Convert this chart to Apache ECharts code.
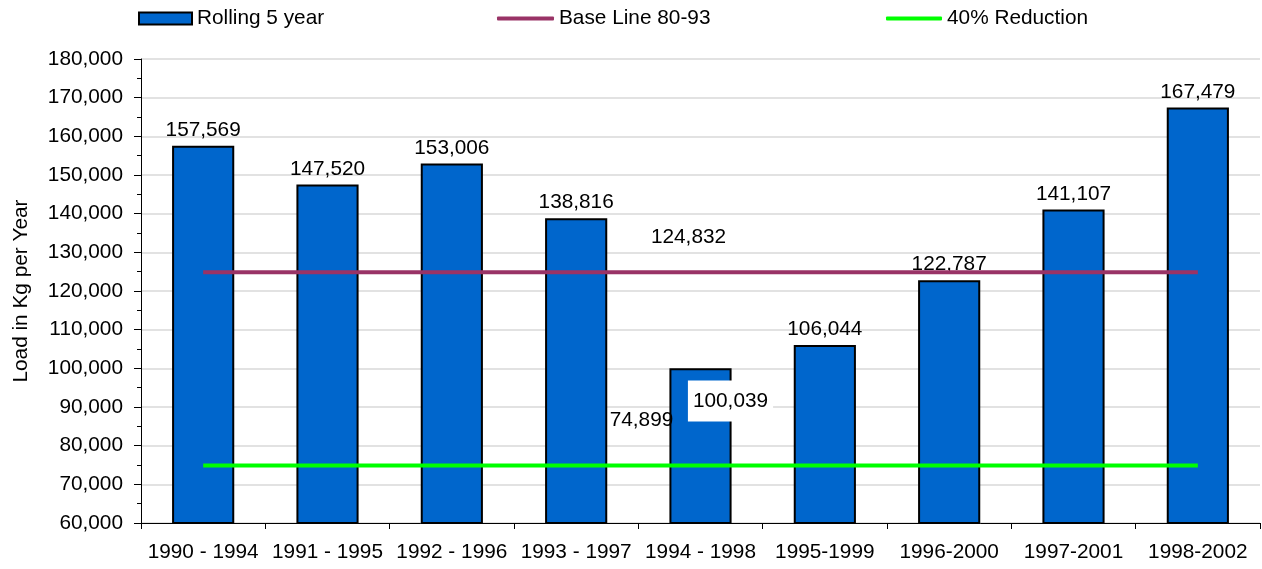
<!DOCTYPE html>
<html>
<head>
<meta charset="utf-8">
<script src="https://cdn.jsdelivr.net/npm/echarts@6/dist/echarts.min.js"></script>
<style>html,body{margin:0;padding:0;background:#fff;}#c{width:1262px;height:569px;}</style>
</head>
<body>
<div id="c"></div>
<script>
var categories = ['1990 - 1994','1991 - 1995','1992 - 1996','1993 - 1997','1994 - 1998','1995-1999','1996-2000','1997-2001','1998-2002'];
var rolling = [157569, 147520, 153006, 138816, 100039, 106044, 122787, 141107, 167479];
var baseLine = [124832, 124832, 124832, 124832, 124832, 124832, 124832, 124832, 124832];
var reduction = [74899, 74899, 74899, 74899, 74899, 74899, 74899, 74899, 74899];
var labelIndex = 4;

var FONT = 'Liberation Sans, Arial, sans-serif';
var FS = 20.8;
function fmt(v){ return v.toLocaleString('en-US'); }

var chart = echarts.init(document.getElementById('c'));

var barData = rolling.map(function(v, i){
  if (i === labelIndex) {
    return { value: v, label: { position: 'inside', offset: [30, -45], backgroundColor: '#fff', padding: [8, 5, 12, 5], verticalAlign: 'middle' } };
  }
  return v;
});
function lineData(arr, offset){
  return arr.map(function(v, i){
    if (i === labelIndex) {
      return { value: v, label: { show: true, position: 'top', offset: offset, formatter: function(p){ return fmt(p.value); }, color: '#000', fontSize: FS, fontFamily: FONT } };
    }
    return { value: v, label: { show: false } };
  });
}

var legendBase = { orient: 'horizontal', top: 3, itemGap: 0, textStyle: { fontSize: FS, fontFamily: FONT, color: '#000' } };

chart.setOption({
  animation: false,
  backgroundColor: '#fff',
  legend: [
    Object.assign({}, legendBase, { left: 133, data: [{ name: 'Rolling 5 year', icon: 'rect' }], itemWidth: 53, itemHeight: 12 }),
    Object.assign({}, legendBase, { left: 492, data: [{ name: 'Base Line 80-93', icon: 'roundRect' }], itemWidth: 57, itemHeight: 4 }),
    Object.assign({}, legendBase, { left: 881, data: [{ name: '40% Reduction', icon: 'roundRect' }], itemWidth: 56, itemHeight: 4 })
  ],
  grid: { left: 141, right: 2, top: 59, bottom: 46, containLabel: false },
  xAxis: {
    type: 'category',
    data: categories,
    boundaryGap: true,
    axisLine: { lineStyle: { color: '#000', width: 1 } },
    axisTick: { show: true, length: 6, lineStyle: { color: '#000' }, alignWithLabel: false },
    axisLabel: { color: '#000', fontSize: FS, fontFamily: FONT, margin: 19, interval: 0 },
    splitLine: { show: false }
  },
  yAxis: {
    type: 'value',
    min: 60000,
    max: 180000,
    interval: 10000,
    name: 'Load in Kg per Year',
    nameLocation: 'middle',
    nameGap: 109,
    nameTextStyle: { color: '#000', fontSize: FS, fontFamily: FONT },
    axisLine: { show: true, lineStyle: { color: '#000', width: 1 } },
    axisTick: { show: true, length: 7, lineStyle: { color: '#000' } },
    minorTick: { show: true, splitNumber: 2, length: 4, lineStyle: { color: '#000' } },
    axisLabel: { color: '#000', fontSize: FS, fontFamily: FONT, margin: 18, formatter: function(v){ return fmt(v); } },
    splitLine: { show: true, lineStyle: { color: '#d9d9d9', width: 1.5 } }
  },
  series: [
    {
      name: 'Rolling 5 year',
      type: 'bar',
      data: barData,
      barWidth: '50%',
      itemStyle: { color: '#0066CC', borderColor: '#000', borderWidth: 2 },
      label: { show: true, position: 'top', distance: 5, color: '#000', fontSize: FS, fontFamily: FONT, formatter: function(p){ return fmt(p.value); } },
      z: 2
    },
    {
      name: 'Base Line 80-93',
      type: 'line',
      data: lineData(baseLine, [-12, -20]),
      symbol: 'circle',
      symbolSize: 0,
      showSymbol: true,
      lineStyle: { color: '#993366', width: 4 },
      itemStyle: { color: '#993366' },
      z: 3
    },
    {
      name: '40% Reduction',
      type: 'line',
      data: lineData(reduction, [-59, -30]),
      symbol: 'circle',
      symbolSize: 0,
      showSymbol: true,
      lineStyle: { color: '#00FF00', width: 4 },
      itemStyle: { color: '#00FF00' },
      z: 3
    }
  ]
});
</script>
</body>
</html>
